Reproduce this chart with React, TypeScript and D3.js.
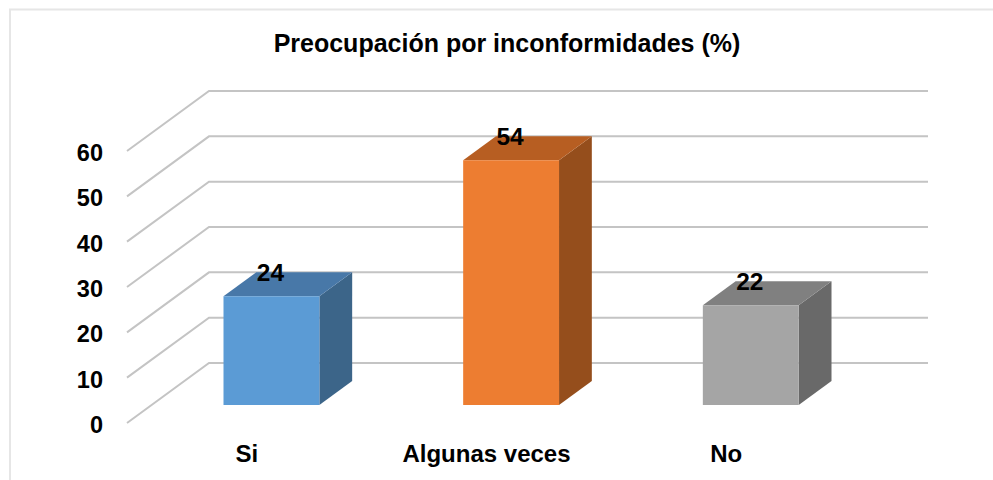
import React from "react";
import * as d3 from "d3";

const title = "Preocupación por inconformidades (%)";
const categories = ["Si", "Algunas veces", "No"];
const values = [24, 54, 22];
const yTicks = [0, 10, 20, 30, 40, 50, 60];
const frontColors = ["#5B9BD5", "#ED7D31", "#A5A5A5"];
const topColors = ["#4878A8", "#B75E22", "#808080"];
const sideColors = ["#3C6589", "#954E1C", "#696969"];

const W = 993;
const H = 480;
const DX = 82; // depth offset x (front -> back)
const DY = -60; // depth offset y
const Z0 = 0.3;
const Z1 = 0.7;
const FONT = "'Liberation Sans', Arial, Helvetica, sans-serif";

export default function App() {
  const x = d3.scaleBand<string>().domain(categories).range([127, 846]).padding(0);
  const y = d3.scaleLinear().domain([0, 60]).range([423, 151]);
  const bw = x.bandwidth();
  const barW = bw * 0.4;

  const proj = (px: number, v: number, z: number): [number, number] => [px + z * DX, y(v) + z * DY];
  const pts = (arr: [number, number][]) => arr.map((p) => p.join(",")).join(" ");

  return (
    <svg width={W} height={H} style={{ position: "absolute", left: 0, top: 0, background: "#fff" }}>
      <rect x={0} y={0} width={W} height={H} fill="#fff" />
      <path d={`M10,${H} L10,9.5 L${W},9.5`} fill="none" stroke="#e6e6e6" strokeWidth={2} />
      <text x={507} y={52} textAnchor="middle" fontFamily={FONT} fontWeight="bold" fontSize={25} fill="#000">
        {title}
      </text>
      {yTicks.map((t) => {
        const f = proj(127, t, 0);
        const b = proj(127, t, 1);
        const e = proj(846, t, 1);
        return (
          <g key={t}>
            <polyline points={pts([f, b, e])} fill="none" stroke="#c4c4c4" strokeWidth={2} />
            <text x={103} y={y(t) + 10} textAnchor="end" fontFamily={FONT} fontWeight="bold" fontSize={23.5} fill="#000">
              {t}
            </text>
          </g>
        );
      })}
      {categories.map((c, i) => {
        const v = values[i];
        const x0 = (x(c) as number) + (bw - barW) / 2;
        const x1 = x0 + barW;
        const fbl = proj(x0, 0, Z0);
        const fbr = proj(x1, 0, Z0);
        const ftl = proj(x0, v, Z0);
        const ftr = proj(x1, v, Z0);
        const btl = proj(x0, v, Z1);
        const btr = proj(x1, v, Z1);
        const bbr = proj(x1, 0, Z1);
        const cx = (ftl[0] + ftr[0]) / 2;
        return (
          <g key={c}>
            <polygon points={pts([ftr, btr, bbr, fbr])} fill={sideColors[i]} />
            <polygon points={pts([ftl, btl, btr, ftr])} fill={topColors[i]} />
            <polygon points={pts([fbl, ftl, ftr, fbr])} fill={frontColors[i]} />
            <text x={cx - 1} y={ftl[1] - 15} textAnchor="middle" fontFamily={FONT} fontWeight="bold" fontSize={24.5} fill="#000">
              {v}
            </text>
            <text x={(x(c) as number) + bw / 2} y={462} textAnchor="middle" fontFamily={FONT} fontWeight="bold" fontSize={24} fill="#000">
              {c}
            </text>
          </g>
        );
      })}
    </svg>
  );
}
